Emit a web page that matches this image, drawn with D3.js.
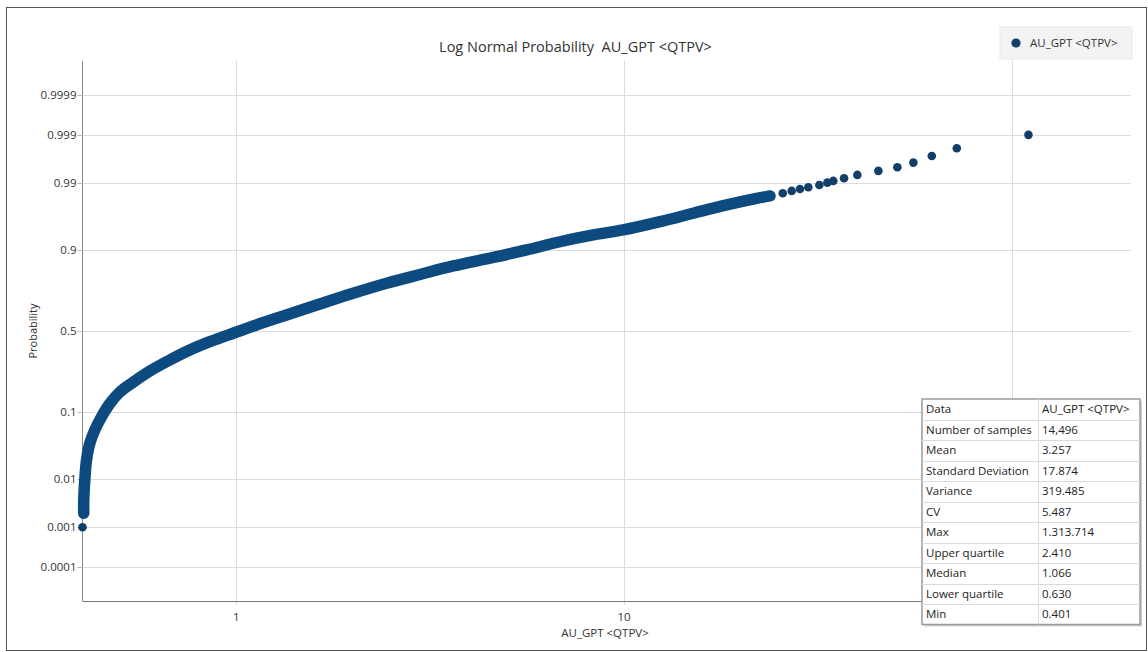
<!DOCTYPE html>
<html><head><meta charset="utf-8">
<script src="https://cdn.jsdelivr.net/npm/d3@7"></script>
<style>
body{margin:0;background:#fff;}
text{font-family:"Open Sans","Noto Sans",sans-serif;white-space:pre;}
</style>
</head><body>
<svg id="c" width="1148" height="652"></svg>
<script>
// ---- data ----
const seriesName = "AU_GPT <QTPV>";
const auValues = [0.401,0.404,0.404,0.4065,0.4107,0.4188,0.4314,0.449,0.4718,0.5004,0.5417,0.5991,0.6736,0.7586,0.8542,0.981,1.127,1.347,1.642,2.001,2.441,2.975,3.625,4.598,5.608,6.832,8.327,9.95,12.38,15.08,18.40,21.98,23.79,
  25.66,27.06,28.43,29.87,31.89,33.44,34.65,36.93,39.97,45.28,50.68,55.74,62.18,72.14,110.4];
const probValues = [0.001,0.00205,0.0039,0.0095,0.0211,0.0385,0.0595,0.0885,0.127,0.168,0.210,0.265,0.324,0.382,0.433,0.486,0.538,0.5995,0.6646,0.7237,0.7737,0.8132,0.847,0.8765,0.899,0.920,0.9347,0.9442,0.9574,0.9681,0.9764,0.98155,0.98325,
  0.98495,0.98627,0.98733,0.98818,0.98925,0.99023,0.99092,0.99191,0.99299,0.99413,0.99503,0.99598,0.99707,0.99799,0.99899];
const denseLimit = 24; // values below this form the continuous dense band
const xTickValues = [1,10,100];
const xTickLabels = ["1","10","100"];
const yTickValues = [0.0001,0.001,0.01,0.1,0.5,0.9,0.99,0.999,0.9999];
const yTickLabels = ["0.0001","0.001","0.01","0.1","0.5","0.9","0.99","0.999","0.9999"];
const statLabels = ["Data","Number of samples","Mean","Standard Deviation","Variance","CV","Max","Upper quartile","Median","Lower quartile","Min"];
const statValues = ["AU_GPT <QTPV>","14,496","3.257","17.874","319.485","5.487","1.313.714","2.410","1.066","0.630","0.401"];
const xDomain = [0.401, 203];
const zDomain = [-4.25, 4.25];

// inverse normal CDF (probability scale transform)
function probit(p){
  const a=[-3.969683028665376e+01,2.209460984245205e+02,-2.759285104469687e+02,1.383577518672690e+02,-3.066479806614716e+01,2.506628277459239e+00];
  const b=[-5.447609879822406e+01,1.615858368580409e+02,-1.556989798598866e+02,6.680131188771972e+01,-1.328068155288572e+01];
  const c=[-7.784894002430293e-03,-3.223964580411365e-01,-2.400758277161838e+00,-2.549732539343734e+00,4.374664141464968e+00,2.938163982698783e+00];
  const d=[7.784695709041462e-03,3.224671290700398e-01,2.445134137142996e+00,3.754408661907416e+00];
  const pl=0.02425, ph=1-pl; let q,r;
  if(p<pl){q=Math.sqrt(-2*Math.log(p));return (((((c[0]*q+c[1])*q+c[2])*q+c[3])*q+c[4])*q+c[5])/((((d[0]*q+d[1])*q+d[2])*q+d[3])*q+1);}
  if(p<=ph){q=p-0.5;r=q*q;return (((((a[0]*r+a[1])*r+a[2])*r+a[3])*r+a[4])*r+a[5])*q/(((((b[0]*r+b[1])*r+b[2])*r+b[3])*r+b[4])*r+1);}
  q=Math.sqrt(-2*Math.log(1-p));return -(((((c[0]*q+c[1])*q+c[2])*q+c[3])*q+c[4])*q+c[5])/((((d[0]*q+d[1])*q+d[2])*q+d[3])*q+1);
}

const svg = d3.select("#c");
const L=82.5, R=1131, T=61, B=601;
const x = d3.scaleLog().domain(xDomain).range([L,R]);
const z = d3.scaleLinear().domain(zDomain).range([B,T]);
const y = p => z(probit(p));
const data = auValues.map((v,i)=>({v, p:probValues[i]}));

// outer frame
svg.append("rect").attr("x",6.5).attr("y",7.5).attr("width",1140).attr("height",643)
  .attr("fill","#fff").attr("stroke","#555").attr("stroke-width",1);

// gridlines
const grid = svg.append("g");
grid.selectAll("line.h").data(yTickValues).join("line")
  .attr("x1",L).attr("x2",R).attr("y1",d=>Math.round(y(d))+0.5).attr("y2",d=>Math.round(y(d))+0.5)
  .attr("stroke","#dcdcdc");
grid.selectAll("line.v").data(xTickValues).join("line")
  .attr("y1",T).attr("y2",B+4).attr("x1",d=>Math.round(x(d))+0.5).attr("x2",d=>Math.round(x(d))+0.5)
  .attr("stroke","#dcdcdc");

// y axis
const yAxis = svg.append("g");
yAxis.append("line").attr("x1",L).attr("x2",L).attr("y1",T).attr("y2",B).attr("stroke","#8a8a8a");
yAxis.selectAll("line.t").data(yTickValues).join("line")
  .attr("x1",L-5).attr("x2",L).attr("y1",d=>Math.round(y(d))+0.5).attr("y2",d=>Math.round(y(d))+0.5).attr("stroke","#bbb");
yAxis.selectAll("text").data(yTickValues).join("text")
  .attr("x",L-6).attr("y",d=>y(d)).attr("dy","0.35em").attr("text-anchor","end")
  .attr("font-size","11.5px").attr("fill","#333").text((d,i)=>yTickLabels[i]);

// x axis
const xAxis = svg.append("g");
xAxis.append("line").attr("x1",L).attr("x2",R).attr("y1",B+0.5).attr("y2",B+0.5).attr("stroke","#777");
xAxis.selectAll("text").data(xTickValues).join("text")
  .attr("x",d=>x(d)).attr("y",621).attr("text-anchor","middle")
  .attr("font-size","11.5px").attr("fill","#333").text((d,i)=>xTickLabels[i]);

// titles
svg.append("text").attr("x",575.5).attr("y",52).attr("text-anchor","middle")
  .attr("font-size","14.5px").attr("fill","#333").text("Log Normal Probability  " + seriesName);
svg.append("text").attr("x",605).attr("y",637).attr("text-anchor","middle")
  .attr("font-size","11.5px").attr("fill","#333").text(seriesName);
svg.append("text").attr("transform","translate(37,331) rotate(-90)").attr("text-anchor","middle")
  .attr("font-size","11px").attr("fill","#333").text("Probability");

// series
const col = "#0d4a80";
const isDense = (d,i)=> i>=1 && d.v<=denseLimit;
const dense = data.filter(isDense);
svg.append("path").datum(dense)
  .attr("d", d3.line().x(d=>x(d.v)).y(d=>y(d.p)).curve(d3.curveCatmullRom))
  .attr("fill","none").attr("stroke",col).attr("stroke-width",11.5)
  .attr("stroke-linecap","round").attr("stroke-linejoin","round");
svg.selectAll("circle.pt").data(data).join("circle").attr("class","pt")
  .attr("cx",d=>x(d.v)).attr("cy",d=>y(d.p)).attr("r",4.3)
  .attr("fill",(d,i)=>isDense(d,i) ? col : "#123f68");

// legend
const lg = svg.append("g");
lg.append("rect").attr("x",1000).attr("y",27).attr("width",132).attr("height",32)
  .attr("fill","#f3f3f3").attr("stroke","#e8e8e8");
lg.append("circle").attr("cx",1016).attr("cy",43).attr("r",4.6).attr("fill","#123f68");
lg.append("text").attr("x",1030).attr("y",43).attr("dy","0.35em").attr("font-size","11.5px")
  .attr("fill","#333").text(seriesName);

// stats table
const tx=922, ty=399, tw=218, rh=20.5, cx2=1038;
const tb = svg.append("g");
tb.append("rect").attr("x",tx+2).attr("y",ty+2).attr("width",tw).attr("height",rh*statLabels.length)
  .attr("fill","#cfcfcf");
tb.append("rect").attr("x",tx).attr("y",ty).attr("width",tw).attr("height",rh*statLabels.length)
  .attr("fill","#fff").attr("stroke","#9a9a9a").attr("stroke-width",1.5);
tb.selectAll("line.r").data(d3.range(1,statLabels.length)).join("line")
  .attr("x1",tx).attr("x2",tx+tw).attr("y1",i=>Math.round(ty+i*rh)+0.5).attr("y2",i=>Math.round(ty+i*rh)+0.5)
  .attr("stroke","#dadada");
tb.append("line").attr("x1",cx2+0.5).attr("x2",cx2+0.5).attr("y1",ty).attr("y2",ty+rh*statLabels.length).attr("stroke","#dadada");
tb.selectAll("text.l").data(statLabels).join("text")
  .attr("x",tx+4).attr("y",(d,i)=>ty+i*rh+rh/2).attr("dy","0.35em")
  .attr("font-size","11.5px").attr("fill","#222").text(d=>d);
tb.selectAll("text.v").data(statValues).join("text")
  .attr("x",cx2+4).attr("y",(d,i)=>ty+i*rh+rh/2).attr("dy","0.35em")
  .attr("font-size","11.5px").attr("fill","#222").text(d=>d);
</script>
</body></html>
